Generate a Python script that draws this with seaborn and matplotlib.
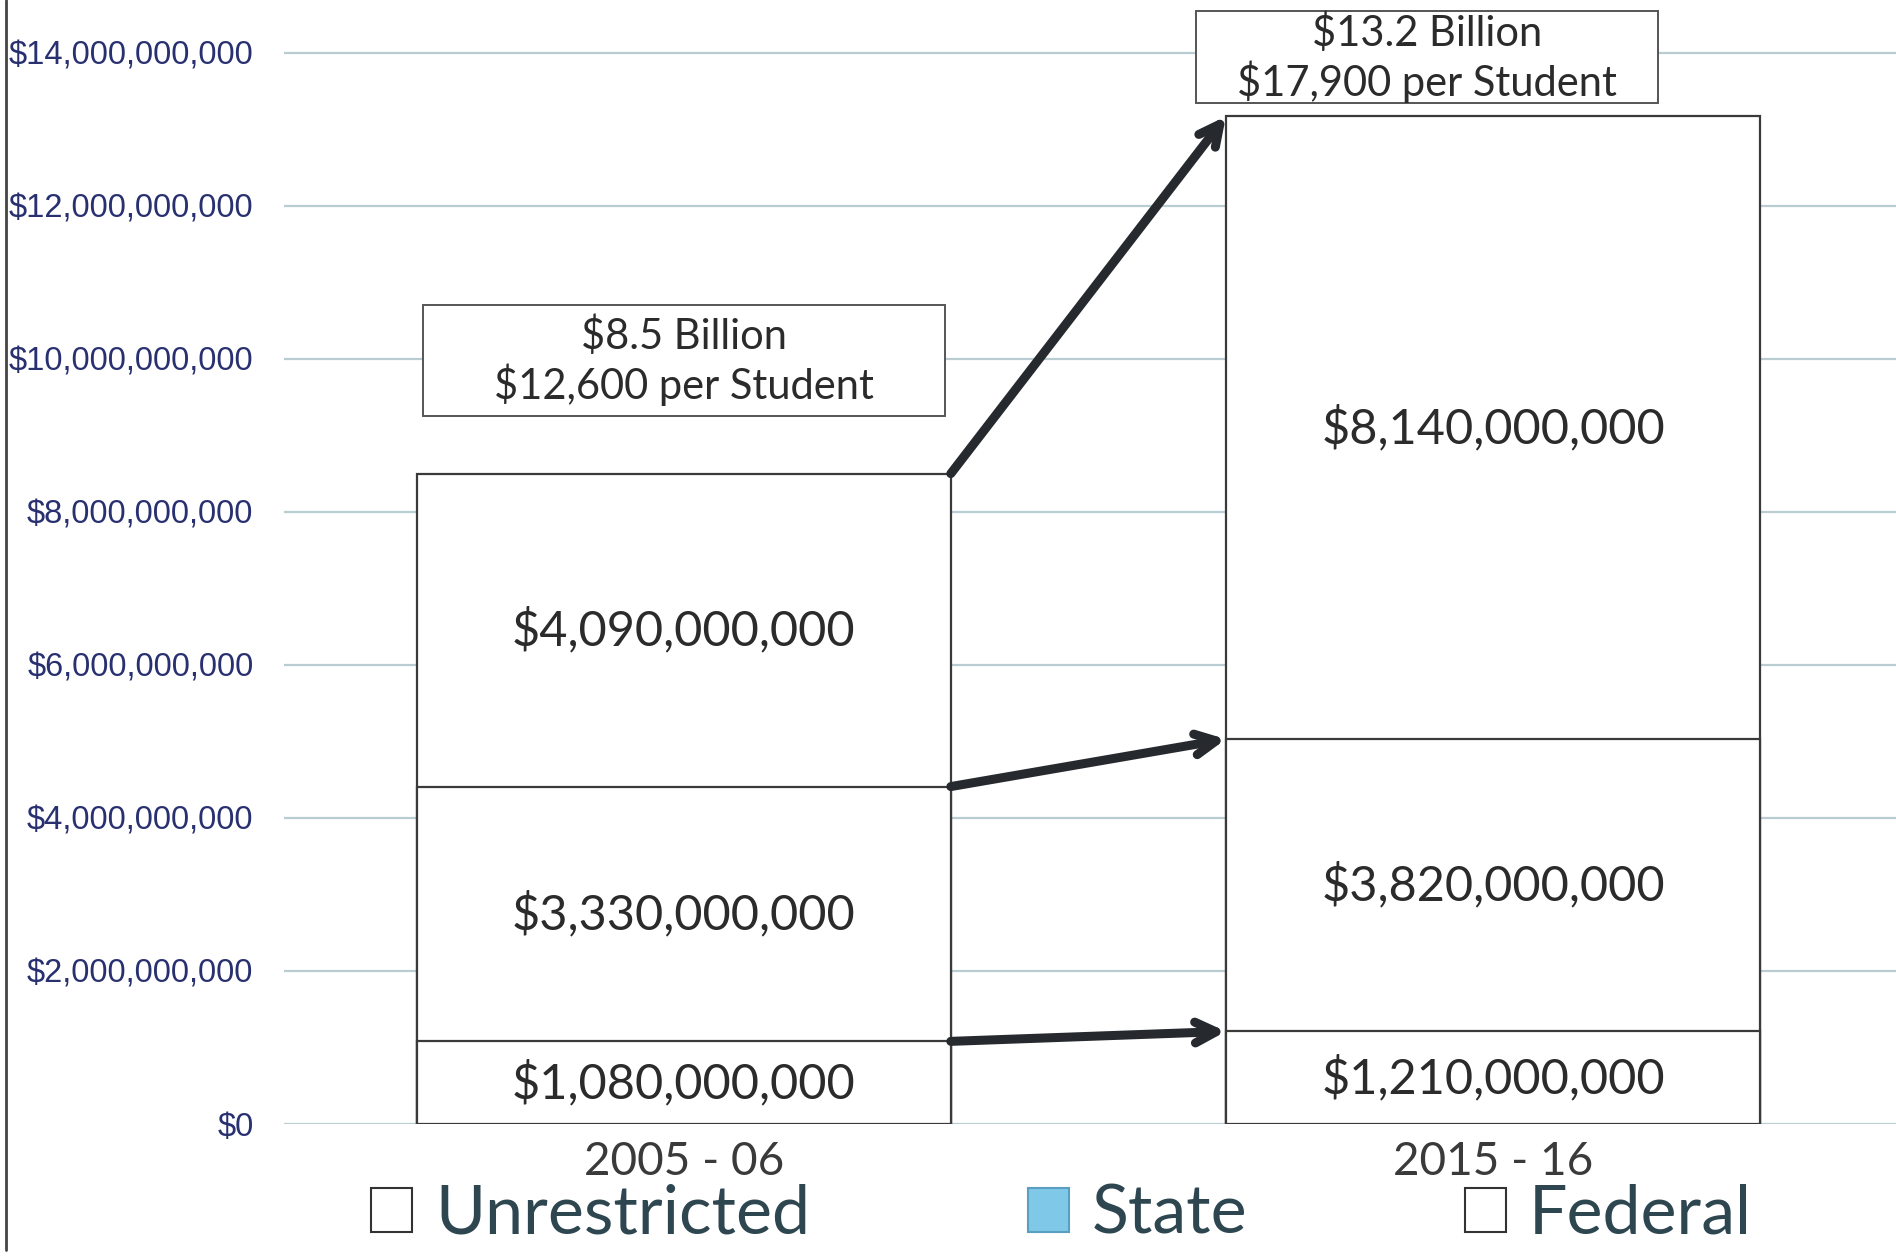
import matplotlib
matplotlib.use("Agg")
import matplotlib.pyplot as plt
from matplotlib.patches import Patch, Rectangle
import numpy as np
import pandas as pd
import seaborn as sns

# ---- data ----
years = ["2005 - 06", "2015 - 16"]
federal = [1.08e9, 1.21e9]
state = [3.33e9, 3.82e9]
unrestricted = [4.09e9, 8.14e9]
federal_labels = ["$1,080,000,000", "$1,210,000,000"]
state_labels = ["$3,330,000,000", "$3,820,000,000"]
unrestricted_labels = ["$4,090,000,000", "$8,140,000,000"]
total_lines = [["$8.5 Billion", "$12,600 per Student"],
               ["$13.2 Billion", "$17,900 per Student"]]
legend_names = ["Unrestricted", "State", "Federal"]
y_ticks = [0, 2e9, 4e9, 6e9, 8e9, 10e9, 12e9, 14e9]
y_tick_labels = ["$0", "$2,000,000,000", "$4,000,000,000", "$6,000,000,000",
                 "$8,000,000,000", "$10,000,000,000", "$12,000,000,000",
                 "$14,000,000,000"]

sns.set_style("white")
plt.rcParams["font.family"] = ["Lato", "DejaVu Sans"]

W, H = 1896, 1257
fig = plt.figure(figsize=(W / 100, H / 100), dpi=100)
ax = fig.add_axes([284 / W, 1 - 1124 / H, 1 - 284 / W, 1124 / H])

df = pd.DataFrame({"year": years, "federal": federal, "state": state,
                   "unrestricted": unrestricted})
df["c1"] = df["federal"]
df["c2"] = df["federal"] + df["state"]
df["c3"] = df["c2"] + df["unrestricted"]

edge = "#3a3a3a"
bw = 0.66
for col in ["c3", "c2", "c1"]:
    sns.barplot(data=df, x="year", y=col, color="white", saturation=1,
                edgecolor=edge, linewidth=1.6, width=bw, errorbar=None,
                ax=ax, zorder=3)

ax.set_xlim(-0.494, 1.498)
ax.set_ylim(0, 14.69e9)
ax.set_yticks(y_ticks)
ax.set_yticklabels(y_tick_labels, fontfamily="Liberation Sans", fontsize=23.5,
                   color="#283070")
ax.yaxis.grid(True, color="#b8ccd2", linewidth=1.6, zorder=0)
ax.xaxis.grid(False)
ax.set_axisbelow(True)
for s in ax.spines.values():
    s.set_visible(False)
ax.tick_params(axis="y", length=0, pad=22)
ax.tick_params(axis="x", length=0, pad=12, labelsize=33, labelcolor="#3a3a3a")
ax.set_xlabel("")
ax.set_ylabel("")

txt = "#2b2b2b"
vfs = 35
# segment labels
for i in range(len(years)):
    ax.text(i, df["c1"][i] / 2, federal_labels[i], ha="center", va="center",
            fontsize=vfs, color=txt, zorder=5)
    ax.text(i, df["c1"][i] + df["state"][i] / 2, state_labels[i], ha="center",
            va="center", fontsize=vfs, color=txt, zorder=5)
    ax.text(i, df["c2"][i] + df["unrestricted"][i] / 2, unrestricted_labels[i],
            ha="center", va="center", fontsize=vfs, color=txt, zorder=5)

# total annotation boxes
box_specs = [(0.0, 0.645, 9.25e9, 1.46e9, 0.72, 0.28),
             (0.918, 0.571, 13.35e9, 1.19e9, 0.77, 0.23)]
for (cx, w, y0, h, f1, f2), lines in zip(box_specs, total_lines):
    ax.add_patch(Rectangle((cx - w / 2, y0), w, h, facecolor="white",
                           edgecolor="#555555", linewidth=1.4, zorder=6))
    ax.text(cx, y0 + h * f1, lines[0], ha="center", va="center",
            fontsize=30, color=txt, zorder=7)
    ax.text(cx, y0 + h * f2, lines[1], ha="center", va="center",
            fontsize=30, color=txt, zorder=7)

# arrows between bars
starts = [df["c3"][0], df["c2"][0], df["c1"][0]]
ends = [df["c3"][1], df["c2"][1], df["c1"][1]]
for s, e in zip(starts, ends):
    ax.annotate("", xy=(1 - bw / 2, e), xytext=(bw / 2, s),
                arrowprops=dict(arrowstyle="->,head_length=1.5,head_width=0.75",
                                color="#262a2e", linewidth=6.5,
                                shrinkA=0, shrinkB=0, capstyle="round",
                                joinstyle="round"),
                zorder=8)

# legend
handles = [Patch(facecolor="white", edgecolor="#333333", linewidth=1.5),
           Patch(facecolor="#80c8e8", edgecolor="#5a9fc0", linewidth=1.5),
           Patch(facecolor="white", edgecolor="#333333", linewidth=1.5)]
leg = fig.legend(handles, legend_names, loc="center left",
                 bbox_to_anchor=(371 / W, 1 - 1215 / H), ncol=3, frameon=False,
                 fontsize=49, handlelength=0.6, handleheight=0.6,
                 handletextpad=0.34, columnspacing=3.2, borderpad=0,
                 borderaxespad=0)
for t in leg.get_texts():
    t.set_color("#2e4650")

# scan border line at far left
fig.add_artist(plt.Line2D([6 / W, 6 / W], [1 - 1250 / H, 1], color="#444444",
                          linewidth=2))

fig.savefig("out.png", dpi=100)
